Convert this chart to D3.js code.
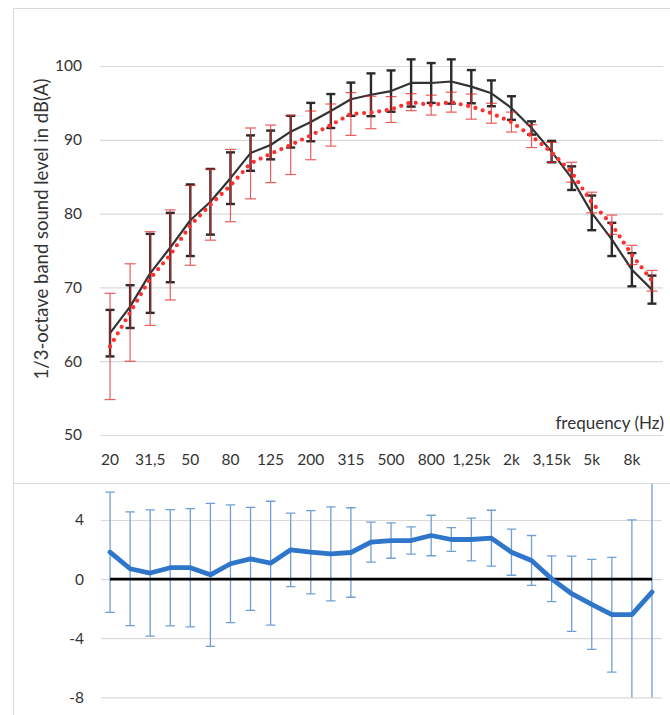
<!DOCTYPE html>
<html><head><meta charset="utf-8">
<script src="https://cdn.jsdelivr.net/npm/d3@7"></script>
<style>
body{margin:0;background:#fff}
svg{display:block}
text{font-family:Lato,"Open Sans",sans-serif;fill:#333}
</style>
</head><body>
<svg id="c" width="670" height="715"></svg>
<script>
// ---- data ----
const bands = ["20","25","31,5","40","50","63","80","100","125","160","200","250","315","400","500","630","800","1k","1,25k","1,6k","2k","2,5k","3,15k","4k","5k","6,3k","8k","10k"];
const tickLabels = ["20","31,5","50","80","125","200","315","500","800","1,25k","2k","3,15k","5k","8k"];
const measured   = [63.8,67.4,71.9,75.4,79.1,81.6,84.8,88.2,89.3,91.1,92.4,93.9,95.5,96.1,96.6,97.7,97.7,97.9,97.2,96.3,94.3,91.6,88.4,84.8,80.1,76.5,72.4,69.7];
const measuredSD = [3.15,2.9,5.35,4.7,4.85,4.45,3.5,2.4,1.95,2.15,2.6,2.3,2.25,2.9,2.8,3.2,2.7,3.0,2.25,1.75,1.6,0.9,1.45,1.6,2.35,2.25,2.25,1.9];
const predicted   = [62.0,66.6,71.2,74.4,78.4,81.2,83.8,86.8,88.1,89.3,90.6,92.0,93.5,93.7,94.1,95.1,94.7,95.1,94.5,93.6,92.4,90.5,88.3,85.6,81.5,78.5,74.4,70.9];
const predictedSD = [7.2,6.6,6.35,6.1,5.4,4.8,4.9,4.8,3.9,4.0,3.3,2.85,2.9,2.2,1.75,1.15,1.35,1.35,1.7,1.35,1.35,1.55,1.35,1.35,1.4,1.3,1.3,1.4];
const difference   = [1.82,0.70,0.41,0.77,0.77,0.29,1.04,1.37,1.08,1.98,1.82,1.71,1.80,2.50,2.61,2.61,2.95,2.68,2.68,2.77,1.82,1.26,0.02,-0.99,-1.71,-2.41,-2.41,-0.88];
const differenceSD = [4.07,3.85,4.27,3.93,4.0,4.84,3.98,3.49,4.19,2.49,2.82,3.18,3.03,1.35,1.2,0.92,1.37,0.81,1.45,1.89,1.56,1.69,1.55,2.55,3.05,3.88,6.42,8.0];
const zeroLine = bands.map(() => 0);
const topTicks = [50,60,70,80,90,100];
const bottomTicks = [-8,-4,0,4];
const yTitle = "1/3-octave band sound level in dB(A)";
const xTitle = "frequency (Hz)";

// ---- layout ----
const svg = d3.select("#c");
const x = d3.scaleBand().domain(bands).range([100, 662]);
const cx = b => x(b) + x.bandwidth()/2;
const yT = d3.scaleLinear().domain([50,100]).range([435,66]);
const yB = d3.scaleLinear().domain([-8,4]).range([697.3,520]);

// chart boxes
svg.append("path").attr("d","M13.5,700 V8.5 H680").attr("fill","none").attr("stroke","#d9d9d9");
svg.append("path").attr("d","M13.5,720 V483.5 H680").attr("fill","none").attr("stroke","#d9d9d9");

// ---- top panel ----
const gT = svg.append("g");
const gridT = gT.append("g").attr("transform","translate(100,0)")
  .call(d3.axisLeft(yT).tickValues(topTicks).tickSize(-563).tickFormat(""));
gridT.select(".domain").remove();
gridT.selectAll("line").attr("stroke","#d9d9d9").attr("stroke-width",1.2);

gT.selectAll("text.yl").data(topTicks).join("text").attr("class","yl")
  .attr("x",82).attr("y",d=>yT(d)).attr("dy","0.35em").attr("text-anchor","end")
  .attr("font-size",15.5).text(d=>d);

const xa = gT.append("g").attr("transform","translate(0,450)")
  .call(d3.axisBottom(x).tickValues(bands.filter(b=>tickLabels.includes(b))).tickSize(0).tickPadding(0));
xa.select(".domain").remove();
xa.selectAll("text").attr("font-size",15.5).attr("dy","0.95em").attr("fill","#333")
  .style("font-family","Lato,'Open Sans',sans-serif");

gT.append("text").attr("x",664).attr("y",423).attr("dy","0.35em").attr("text-anchor","end")
  .attr("font-size",17).text(xTitle);
gT.append("text").attr("transform","translate(42,229) rotate(-90)").attr("text-anchor","middle")
  .attr("dy","0.35em").attr("font-size",18.5).text(yTitle);

function errorBars(g, vals, sds, y, color, width, cap, opacity){
  const eg = g.append("g").attr("opacity",opacity);
  bands.forEach((b,i)=>{
    const xc = cx(b), t = y(vals[i]+sds[i]), bt = y(vals[i]-sds[i]);
    eg.append("line").attr("x1",xc).attr("x2",xc).attr("y1",t).attr("y2",bt)
      .attr("stroke",color).attr("stroke-width",width);
    [t,bt].forEach(yy=>eg.append("line").attr("x1",xc-cap).attr("x2",xc+cap).attr("y1",yy).attr("y2",yy)
      .attr("stroke",color).attr("stroke-width",width));
  });
}
errorBars(gT, measured, measuredSD, yT, "#2a2a2a", 2.4, 4.5, 1);
const lineT = d3.line().x((d,i)=>cx(bands[i])).y(d=>yT(d));
gT.append("path").datum(measured).attr("d",lineT).attr("fill","none")
  .attr("stroke","#333").attr("stroke-width",2.2).attr("stroke-linejoin","round");
errorBars(gT, predicted, predictedSD, yT, "#e02828", 1.2, 5.5, 0.75);
gT.append("path").datum(predicted).attr("d",lineT).attr("fill","none")
  .attr("stroke","#ff2f2f").attr("stroke-width",4.2).attr("stroke-linecap","round")
  .attr("stroke-dasharray","0 7.6");

// ---- bottom panel ----
const gB = svg.append("g");
svg.append("defs").append("clipPath").attr("id","clipB").append("rect")
  .attr("x",90).attr("y",484).attr("width",580).attr("height",213.6);
const gridB = gB.append("g").attr("transform","translate(101,0)")
  .call(d3.axisLeft(yB).tickValues(bottomTicks).tickSize(-561).tickFormat(""));
gridB.select(".domain").remove();
gridB.selectAll("line").attr("stroke","#d9d9d9").attr("stroke-width",1.2);
gB.selectAll("text.yl").data(bottomTicks).join("text").attr("class","yl")
  .attr("x",84).attr("y",d=>yB(d)).attr("dy","0.35em").attr("text-anchor","end")
  .attr("font-size",15.5).text(d=>d);

const gBc = gB.append("g").attr("clip-path","url(#clipB)");
errorBars(gBc, difference, differenceSD, yB, "#6f9fd6", 1.3, 4.7, 1);
const lineB = d3.line().x((d,i)=>cx(bands[i])).y(d=>yB(d));
gBc.append("path").datum(zeroLine).attr("d",lineB).attr("fill","none")
  .attr("stroke","#000").attr("stroke-width",2.6);
gBc.append("path").datum(difference).attr("d",lineB).attr("fill","none")
  .attr("stroke","#2f75c9").attr("stroke-width",4.8).attr("stroke-linejoin","round").attr("stroke-linecap","round");
</script>
</body></html>
